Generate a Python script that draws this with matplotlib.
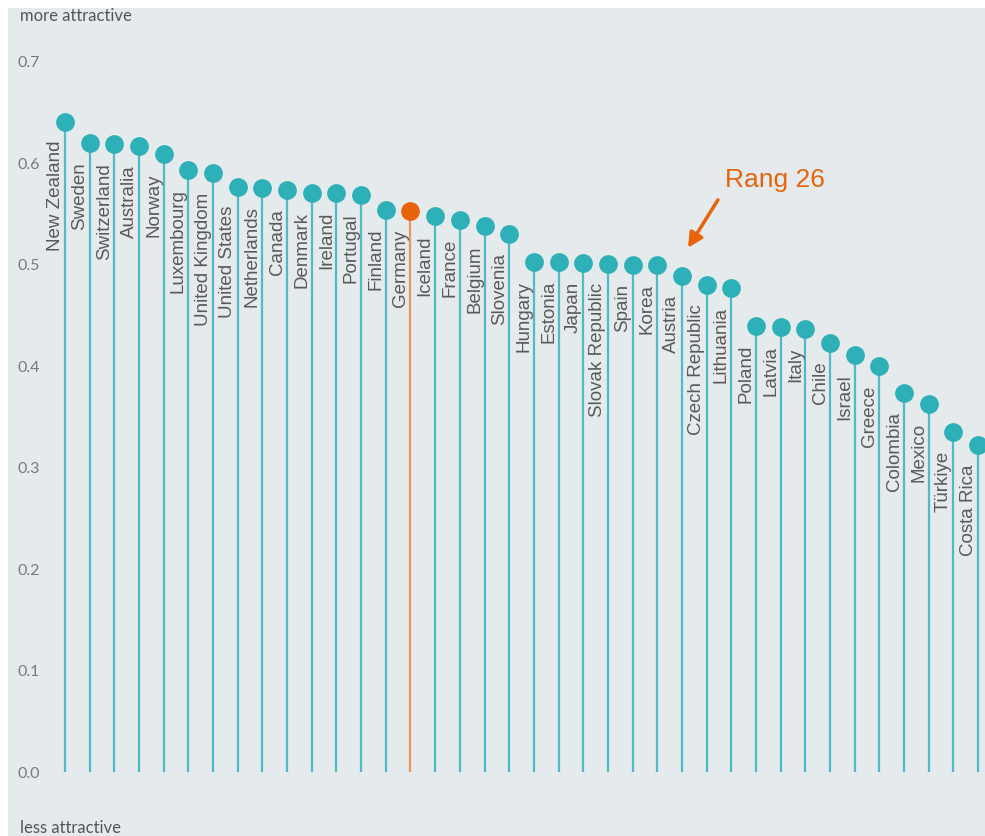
import matplotlib
matplotlib.use('Agg')
import matplotlib.pyplot as plt
from matplotlib.transforms import offset_copy

# Daten: Attraktivitaet je Land
countries = ['New Zealand', 'Sweden', 'Switzerland', 'Australia', 'Norway', 'Luxembourg',
             'United Kingdom', 'United States', 'Netherlands', 'Canada', 'Denmark', 'Ireland',
             'Portugal', 'Finland', 'Germany', 'Iceland', 'France', 'Belgium', 'Slovenia',
             'Hungary', 'Estonia', 'Japan', 'Slovak Republic', 'Spain', 'Korea', 'Austria',
             'Czech Republic', 'Lithuania', 'Poland', 'Latvia', 'Italy', 'Chile', 'Israel',
             'Greece', 'Colombia', 'Mexico', 'Türkiye', 'Costa Rica']
values = [0.641, 0.620, 0.619, 0.617, 0.609, 0.593, 0.590, 0.577, 0.576, 0.574, 0.571, 0.571,
          0.569, 0.554, 0.553, 0.548, 0.544, 0.538, 0.530, 0.503, 0.503, 0.502, 0.501, 0.500,
          0.500, 0.489, 0.480, 0.477, 0.440, 0.439, 0.437, 0.423, 0.411, 0.400, 0.374, 0.363,
          0.335, 0.322]
highlight = 'Germany'
rank_label = 'Rang 26'
rank_country = 'Austria'
yticks = [0.0, 0.1, 0.2, 0.3, 0.4, 0.5, 0.6, 0.7]

teal = '#2eb0b8'
teal_line = '#4dbcc4'
orange = '#e8640c'
orange_line = '#ea9460'
bg = '#e5eaed'

fig = plt.figure(figsize=(9.85, 8.36), dpi=100)
fig.patch.set_facecolor('white')
ax = fig.add_axes([8 / 985, 0, 977 / 985, 828 / 836])
ax.set_facecolor(bg)

for i, (c, v) in enumerate(zip(countries, values)):
    is_hl = c == highlight
    ax.plot([i, i], [0, v], color=orange_line if is_hl else teal_line, lw=1.6, zorder=1,
            solid_capstyle='butt')
    ax.plot(i, v, 'o', color=orange if is_hl else teal, markersize=13.5,
            markeredgewidth=0, zorder=3, clip_on=False)
    ax.annotate(c, (i, v), xytext=(-10, -19), textcoords='offset pixels',
                rotation=90, ha='center', va='top', fontsize=13.5,
                family=['Liberation Sans', 'DejaVu Sans'], color='#595959')

ax.set_xlim(-2.31, 37.28)
ax.set_ylim(-0.063, 0.753)

ax.set_yticks(yticks)
ax.set_yticklabels([f'{t:.1f}' for t in yticks])
ax.tick_params(axis='y', length=0, pad=-23, labelsize=11.5, labelcolor='#7a7a7a')
for lab in ax.get_yticklabels():
    lab.set_family(['Lato', 'DejaVu Sans'])
ax.set_xticks([])
for s in ax.spines.values():
    s.set_visible(False)

# Pfeil auf Rang 26
k = countries.index(rank_country)
tip = offset_copy(ax.transData, fig=fig, x=6, y=28, units='dots')
ax.annotate('', xy=(k, values[k]), xycoords=tip, xytext=(30, 48), textcoords='offset pixels',
            arrowprops=dict(arrowstyle='-|>', color=orange, lw=2.5, mutation_scale=22,
                            shrinkA=0, shrinkB=0))
ax.annotate(rank_label, (k, values[k]), xytext=(93, 96), textcoords='offset pixels',
            ha='center', va='center', fontsize=19, color=orange,
            family=['Liberation Sans', 'DejaVu Sans'])

fig.text(20 / 985, 1 - 16 / 836, 'more attractive', ha='left', va='center', fontsize=12,
         color='#555555', family=['Lato', 'DejaVu Sans'])
fig.text(20 / 985, 1 - 828 / 836, 'less attractive', ha='left', va='center', fontsize=12,
         color='#555555', family=['Lato', 'DejaVu Sans'])

fig.savefig('out.png', dpi=100, facecolor='white')
